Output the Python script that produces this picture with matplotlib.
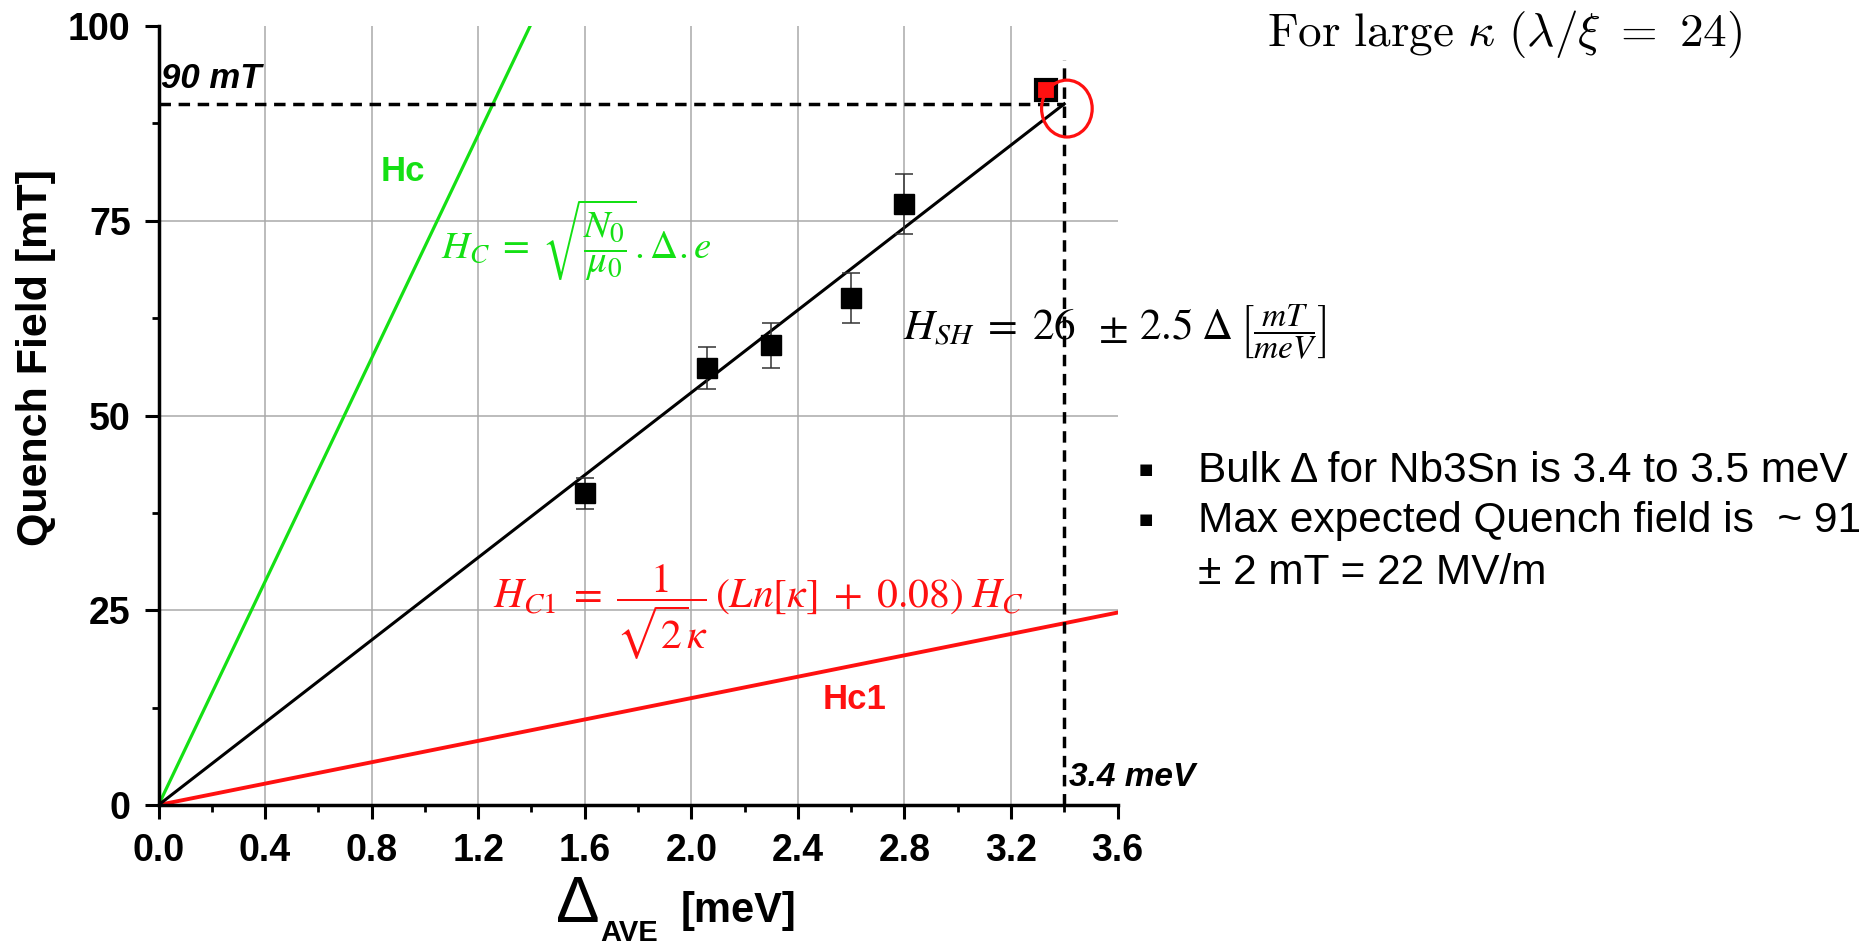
import matplotlib
matplotlib.use('Agg')
import matplotlib.pyplot as plt
from matplotlib.patches import Ellipse
from matplotlib.ticker import MultipleLocator

W, H = 1868, 951

# measured quench field vs average gap
gap = [1.6, 2.06, 2.3, 2.6, 2.8]
quench = [40.0, 56.1, 59.0, 65.1, 77.1]
quench_err = [2.0, 2.75, 2.9, 3.25, 3.85]
max_gap = [3.33]
max_quench = [91.8]

# straight lines (end points)
fit_x = [0.0, 3.4]
fit_y = [0.0, 90.0]
hc_x = [0.0, 1.395]
hc_y = [0.0, 100.0]
hc1_x = [0.0, 3.6]
hc1_y = [0.0, 24.7]

ref_field = 90.0
ref_gap = 3.4
ref_gap_top = 95.6

xticks = [0.0, 0.4, 0.8, 1.2, 1.6, 2.0, 2.4, 2.8, 3.2, 3.6]
yticks = [0, 25, 50, 75, 100]

green = '#14e014'
red = '#ff1010'
sans = ['Liberation Sans', 'DejaVu Sans']

def fx(x):
    return x / W

def fy(y):
    return 1 - y / H

fig = plt.figure(figsize=(W / 100, H / 100), dpi=100)
ax = fig.add_axes([fx(158.5), fy(805), (1117.5 - 158.5) / W, (805 - 26) / H])

ax.set_xlim(0, 3.6)
ax.set_ylim(0, 100)

# grid drawn only on inner ticks
for x in xticks[1:-1]:
    ax.axvline(x, color='#a9a9a9', lw=1.1, zorder=0)
for y in yticks[1:-1]:
    ax.axhline(y, color='#a9a9a9', lw=1.1, zorder=0)

ax.plot(hc_x, hc_y, color=green, lw=2.3, zorder=2)
ax.plot(hc1_x, hc1_y, color=red, lw=2.8, zorder=2)
ax.plot(fit_x, fit_y, color='black', lw=2.2, zorder=3)

ax.plot([0, ref_gap], [ref_field, ref_field], color='black', lw=2.5,
        dashes=(3.3, 2.2), zorder=3)
ax.plot([ref_gap, ref_gap], [0, ref_gap_top], color='black', lw=2.5,
        dashes=(3.3, 2.2), zorder=3, clip_on=False)

ax.errorbar(gap, quench, yerr=quench_err, fmt='s', color='black', ms=15,
            ecolor='#333333', elinewidth=1.1, capsize=6.5, capthick=1.1, zorder=4)
ax.plot(max_gap, max_quench, 's', ms=15, mfc=red, mec='black', mew=3, zorder=5)

ax.add_patch(Ellipse((3.41, 89.4), 0.19, 7.3, fill=False, ec=red, lw=2.3,
                     zorder=6, clip_on=False))

for s in ['top', 'right']:
    ax.spines[s].set_visible(False)
for s in ['left', 'bottom']:
    ax.spines[s].set_linewidth(2.5)

ax.set_xticks(xticks)
ax.set_xticklabels([f'{v:.1f}' for v in xticks])
ax.set_yticks(yticks)
ax.set_yticklabels([str(v) for v in yticks])
ax.xaxis.set_minor_locator(MultipleLocator(0.2))
ax.yaxis.set_minor_locator(MultipleLocator(12.5))
ax.tick_params(which='major', direction='out', length=10, width=2.2, pad=10)
ax.tick_params(which='minor', direction='out', length=5, width=2.0)
for lab in ax.get_xticklabels() + ax.get_yticklabels():
    lab.set_family(sans)
    lab.set_fontweight('bold')
    lab.set_fontsize(27)

# annotations inside the plot
ax.text(0.01, 92.0, '90 mT', family=sans, weight='bold', style='italic',
        fontsize=25, va='baseline', ha='left')
ax.text(0.918, 81.3, 'Hc', family=sans, weight='bold', color=green,
        fontsize=25, va='center', ha='center')
ax.text(2.614, 13.5, 'Hc1', family=sans, weight='bold', color=red,
        fontsize=25, va='center', ha='center')
ax.text(3.418, 3.5, '3.4 meV', family=sans, weight='bold', style='italic',
        fontsize=24, va='center', ha='left', clip_on=False)
ax.text(1.06, 72.5, r'$H_C\;=\;\sqrt{\dfrac{N_0}{\mu_0}}.\Delta.e$', color=green,
        fontsize=28, math_fontfamily='stix', va='center', ha='left')
ax.text(1.256, 24.7,
        r'$H_{C1}\;=\;\dfrac{1}{\sqrt{2}\kappa}\,(Ln[\kappa]\;+\;0.08)\;H_C$',
        color=red, fontsize=30, math_fontfamily='stix', va='center', ha='left')
hsh = ax.text(2.794, 61.3, r'$H_{SH}\;=\;26\;\;\pm\,2.5\;\Delta$',
              color='black', fontsize=31, math_fontfamily='stix', va='center',
              ha='left', clip_on=False)
ax.annotate(r'$\left[\dfrac{mT}{meV}\right]$', xy=(1, 0.5), xycoords=hsh,
            xytext=(5, -3), textcoords='offset points', fontsize=24,
            math_fontfamily='stix', va='center', ha='left', annotation_clip=False)

# axis labels
fig.text(fx(36), fy(358), 'Quench Field [mT]', family=sans, weight='bold',
         fontsize=31, rotation=90, va='center', ha='center')
fig.text(fx(556), fy(922), '\u0394', family=sans, fontsize=47, va='baseline', ha='left')
fig.text(fx(600), fy(941), 'AVE', family=sans, weight='bold', fontsize=21,
         va='baseline', ha='left')
fig.text(fx(681), fy(922), '[meV]', family=sans, weight='bold', fontsize=30,
         va='baseline', ha='left')

# side notes
fig.text(fx(1267), fy(34), r'$\mathrm{For\ large}\ \kappa\ (\lambda/\xi\ =\ 24)$',
         fontsize=34, math_fontfamily='cm', va='center', ha='left')
notes = ['Bulk \u0394 for Nb3Sn is 3.4 to 3.5 meV',
         'Max expected Quench field is  ~ 91',
         '\u00b1 2 mT = 22 MV/m']
note_y = [471, 521, 573]
for i, (t, y) in enumerate(zip(notes, note_y)):
    fig.text(fx(1198), fy(y), t, family=sans, fontsize=30.5, va='center', ha='left')
    if i < 2:
        fig.text(fx(1146), fy(y - 2), '\u25a0', family=['DejaVu Sans'], fontsize=11,
                 va='center', ha='center')

fig.savefig('out.png', dpi=100)
